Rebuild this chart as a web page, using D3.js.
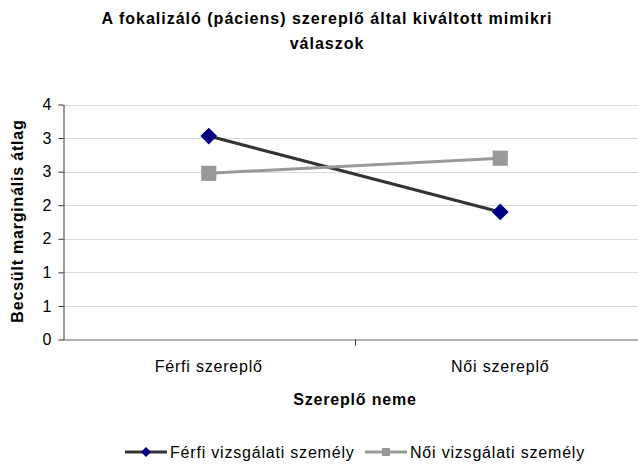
<!DOCTYPE html>
<html>
<head>
<meta charset="utf-8">
<script src="https://cdn.jsdelivr.net/npm/d3@7"></script>
<style>
  body { margin: 0; background: #fff; }
  text { font-family: "Liberation Sans", Arial, sans-serif; fill: #000; }
</style>
</head>
<body>
<script>
// data
var categories = ["Férfi szereplő", "Női szereplő"];
var seriesNames = ["Férfi vizsgálati személy", "Női vizsgálati személy"];
var ferfiValues = [3.03, 1.90];
var noiValues = [2.475, 2.70];
var yTicks = [0, 0.5, 1, 1.5, 2, 2.5, 3, 3.5];
var yTickLabels = ["0", "1", "1", "2", "2", "3", "3", "4"];

var width = 638, height = 467;
var fs = 16, ls = 0.8;

var svg = d3.select("body").append("svg")
    .attr("width", width)
    .attr("height", height);

var plotLeft = 63, plotRight = 646, plotTop = 104.5, plotBottom = 339.5;

var x = d3.scaleBand().domain(categories).range([plotLeft, plotRight]);
var y = d3.scaleLinear().domain([0, 3.5]).range([plotBottom, plotTop]);

// gridlines
svg.append("g").selectAll("line")
    .data(yTicks.slice(1))
    .enter().append("line")
    .attr("x1", plotLeft).attr("x2", width)
    .attr("y1", function (d) { return Math.round(y(d)) + 0.5; })
    .attr("y2", function (d) { return Math.round(y(d)) + 0.5; })
    .attr("stroke", "#d9d9d9");

// y axis
var yAxis = svg.append("g")
    .attr("transform", "translate(" + (plotLeft + 0.5) + ",0)")
    .call(d3.axisLeft(y).tickValues(yTicks).tickSize(5).tickSizeOuter(0)
        .tickFormat(function (d, i) { return yTickLabels[i]; }));
yAxis.select(".domain").attr("stroke", "#333");
yAxis.selectAll(".tick line").attr("stroke", "#333");
yAxis.selectAll(".tick text")
    .attr("font-size", fs).attr("x", -12)
    .style("font-family", "'Liberation Sans', Arial, sans-serif")
    .style("fill", "#000");

// x axis
svg.append("line")
    .attr("x1", plotLeft).attr("x2", width)
    .attr("y1", plotBottom + 0.5).attr("y2", plotBottom + 0.5)
    .attr("stroke", "#666");
svg.append("line")
    .attr("x1", Math.round(x(categories[1])) + 0.5).attr("x2", Math.round(x(categories[1])) + 0.5)
    .attr("y1", plotBottom).attr("y2", plotBottom + 6)
    .attr("stroke", "#333");

svg.append("g").selectAll("text")
    .data(categories)
    .enter().append("text")
    .attr("x", function (d) { return x(d) + x.bandwidth() / 2; })
    .attr("y", 372)
    .attr("text-anchor", "middle")
    .attr("font-size", fs)
    .attr("letter-spacing", ls)
    .text(function (d) { return d; });

// titles
var title = svg.append("text")
    .attr("text-anchor", "middle")
    .attr("font-size", fs)
    .attr("font-weight", "bold")
    .attr("letter-spacing", 1);
title.append("tspan").attr("x", 327).attr("y", 24)
    .text("A fokalizáló (páciens) szereplő által kiváltott mimikri");
title.append("tspan").attr("x", 327).attr("y", 49).text("válaszok");

svg.append("text")
    .attr("x", 355).attr("y", 405)
    .attr("text-anchor", "middle")
    .attr("font-size", fs)
    .attr("font-weight", "bold")
    .attr("letter-spacing", ls)
    .text("Szereplő neme");

svg.append("text")
    .attr("transform", "translate(23,221) rotate(-90)")
    .attr("text-anchor", "middle")
    .attr("font-size", fs)
    .attr("font-weight", "bold")
    .attr("letter-spacing", ls)
    .text("Becsült marginális átlag");

// series
var cx = function (i) { return x(categories[i]) + x.bandwidth() / 2; };
var line = d3.line()
    .x(function (d, i) { return cx(i); })
    .y(function (d) { return y(d); });

var series = [
    { name: seriesNames[0], values: ferfiValues, stroke: "#333333", fill: "#000080", diamond: true, size: 140 },
    { name: seriesNames[1], values: noiValues, stroke: "#999999", fill: "#999999", diamond: false, size: 230 }
];

series.forEach(function (s) {
    svg.append("path")
        .attr("d", line(s.values))
        .attr("fill", "none")
        .attr("stroke", s.stroke)
        .attr("stroke-width", 3);
});

function marker(s, size, px, py) {
    svg.append("path")
        .attr("d", d3.symbol().type(d3.symbolSquare).size(size)())
        .attr("transform", "translate(" + px + "," + py + ")" + (s.diamond ? " rotate(45)" : ""))
        .attr("fill", s.fill);
}

series.forEach(function (s) {
    s.values.forEach(function (v, i) {
        marker(s, s.size, cx(i), y(v));
    });
});

// legend
var legendItems = [
    { x1: 125, x2: 167, tx: 170 },
    { x1: 365, x2: 407, tx: 410 }
];
var ly = 452;
series.forEach(function (s, i) {
    var it = legendItems[i];
    svg.append("line")
        .attr("x1", it.x1).attr("x2", it.x2)
        .attr("y1", ly).attr("y2", ly)
        .attr("stroke", s.stroke).attr("stroke-width", 3);
    marker(s, i === 0 ? 50 : 64, (it.x1 + it.x2) / 2, ly);
    svg.append("text")
        .attr("x", it.tx).attr("y", ly + 6)
        .attr("font-size", fs)
        .attr("letter-spacing", ls)
        .text(s.name);
});
</script>
</body>
</html>
